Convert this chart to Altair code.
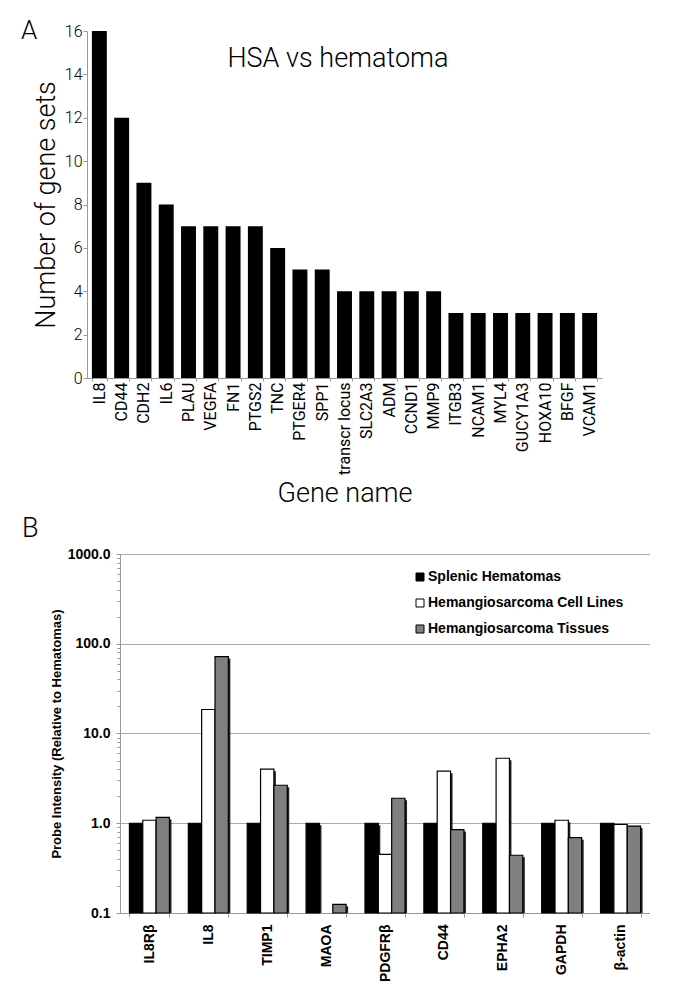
import altair as alt
import pandas as pd

# ---------------- Panel A data ----------------
genes_a = ["IL8", "CD44", "CDH2", "IL6", "PLAU", "VEGFA", "FN1", "PTGS2", "TNC",
           "PTGER4", "SPP1", "transcr locus", "SLC2A3", "ADM", "CCND1", "MMP9",
           "ITGB3", "NCAM1", "MYL4", "GUCY1A3", "HOXA10", "BFGF", "VCAM1"]
counts_a = [16, 12, 9, 8, 7, 7, 7, 7, 6, 5, 5, 4, 4, 4, 4, 4, 3, 3, 3, 3, 3, 3, 3]
y_ticks_a = [0, 2, 4, 6, 8, 10, 12, 14, 16]

# ---------------- Panel B data ----------------
genes_b = ["IL8Rβ", "IL8", "TIMP1", "MAOA", "PDGFRβ", "CD44", "EPHA2", "GAPDH", "β-actin"]
series_b = ["Splenic Hematomas", "Hemangiosarcoma Cell Lines", "Hemangiosarcoma Tissues"]
hematomas = [1.0, 1.0, 1.0, 1.0, 1.0, 1.0, 1.0, 1.0, 1.0]
cell_lines = [1.08, 18.5, 4.0, None, 0.45, 3.8, 5.3, 1.08, 0.97]
tissues = [1.16, 72.0, 2.65, 0.125, 1.9, 0.85, 0.44, 0.69, 0.93]
colors_b = ["#000000", "#ffffff", "#7f7f7f"]
y_ticks_b = [m * 10.0 ** e for e in range(-1, 3) for m in range(1, 10)] + [1000.0]

FONT_A = "Roboto"
FONT_B = "Liberation Sans"

# panel A plot spans further left than panel B's plot origin
SHIFT_A = 33
W_A, H_A = 482, 347
W_B, H_B = 530, 359
PAD_IN_B, PAD_OUT_B = 0.32, 0.16
BAND_B = W_B / (len(genes_b) - PAD_IN_B + 2 * PAD_OUT_B) * (1 - PAD_IN_B)
SHADOW = 2

df_a = pd.DataFrame({"gene": genes_a, "count": counts_a})

rows = []
for s, vals in zip(series_b, [hematomas, cell_lines, tissues]):
    for g, v in zip(genes_b, vals):
        if v is not None:
            rows.append({"gene": g, "series": s, "value": v})
df_b = pd.DataFrame(rows)

# ---------------- Panel A chart ----------------
bars_a = alt.Chart(df_a).mark_bar(color="#000000").encode(
    x=alt.X("gene:N", sort=genes_a,
            scale=alt.Scale(paddingInner=0.33, paddingOuter=0.22, range=[-SHIFT_A, W_A]),
            axis=alt.Axis(title="Gene name", labelAngle=-90, tickBand="extent",
                          labelFont=FONT_A, labelFontSize=16, labelColor="#000000",
                          labelFontWeight=400, labelPadding=1, tickSize=3,
                          tickColor="#999999", domainColor="#999999",
                          titleFont=FONT_A, titleFontSize=27, titleFontWeight=300,
                          titleColor="#000000", titlePadding=6)),
    y=alt.Y("count:Q", scale=alt.Scale(domain=[0, 16]),
            axis=alt.Axis(title="Number of gene sets", values=y_ticks_a, grid=False,
                          offset=SHIFT_A,
                          labelFont=FONT_A, labelFontSize=16, labelColor="#000000",
                          labelFontWeight=300, labelPadding=1, tickSize=4,
                          tickColor="#999999", domainColor="#999999",
                          titleFont=FONT_A, titleFontSize=27, titleFontWeight=300,
                          titleColor="#000000", titlePadding=4)),
)

title_a = alt.Chart(pd.DataFrame({"t": ["HSA vs hematoma"]})).mark_text(
    font=FONT_A, fontSize=27, fontWeight=300, color="#000000",
    align="center", baseline="middle").encode(
    text="t:N", x=alt.value(218), y=alt.value(28))

letter_a = alt.Chart(pd.DataFrame({"t": ["A"]})).mark_text(
    font=FONT_A, fontSize=26, fontWeight=300, color="#000000",
    align="left", baseline="alphabetic").encode(
    text="t:N", x=alt.value(-99), y=alt.value(8))

chart_a = alt.layer(bars_a, title_a, letter_a).properties(width=W_A, height=H_A)

# ---------------- Panel B chart ----------------
DECADE = "abs(log(datum.value)/LN10 - round(log(datum.value)/LN10)) < 0.000001"

x_b = alt.X("gene:N", sort=genes_b,
            scale=alt.Scale(paddingInner=PAD_IN_B, paddingOuter=PAD_OUT_B),
            axis=alt.Axis(title=None, labelAngle=-90, tickBand="extent",
                          labelFont=FONT_B, labelFontSize=14, labelFontWeight="bold",
                          labelColor="#000000", labelPadding=7, tickSize=4,
                          tickColor="#999999", domainColor="#999999"))
y_b = alt.Y("value:Q",
            scale=alt.Scale(type="log", domain=[0.1, 1000]),
            axis=alt.Axis(title="Probe Intensity (Relative to Hematomas)",
                          values=y_ticks_b, labelOverlap=False,
                          labelExpr="(" + DECADE + ") ? format(datum.value, '.1f') : ''",
                          gridColor="#aaaaaa",
                          gridOpacity={"condition": {"test": DECADE, "value": 1}, "value": 0},
                          tickSize={"condition": {"test": DECADE, "value": 4}, "value": 3},
                          tickColor="#999999", domainColor="#999999",
                          labelFont=FONT_B, labelFontSize=14, labelFontWeight="bold",
                          labelColor="#000000", labelPadding=6,
                          titleFont=FONT_B, titleFontSize=13, titleFontWeight="bold",
                          titleColor="#000000", titlePadding=4))

shadow_b = alt.Chart(df_b).mark_bar(color="#222222", yOffset=SHADOW).encode(
    x=x_b,
    xOffset=alt.XOffset("series:N", sort=series_b,
                        scale=alt.Scale(paddingInner=0, range=[SHADOW, BAND_B + SHADOW])),
    y=y_b, y2=alt.datum(0.1))

bars_b = alt.Chart(df_b).mark_bar(stroke="#000000", strokeWidth=1.2).encode(
    x=x_b,
    xOffset=alt.XOffset("series:N", sort=series_b,
                        scale=alt.Scale(paddingInner=0, range=[0, BAND_B])),
    y=y_b, y2=alt.datum(0.1),
    color=alt.Color("series:N", sort=series_b,
                    scale=alt.Scale(domain=series_b, range=colors_b),
                    legend=alt.Legend(title=None, orient="none", legendX=293, legendY=16,
                                      symbolType="square", symbolSize=64,
                                      symbolStrokeColor="#000000", symbolStrokeWidth=1,
                                      labelFont=FONT_B, labelFontSize=14,
                                      labelFontWeight="bold", labelColor="#000000",
                                      labelOffset=1, rowPadding=12, padding=0,
                                      labelLimit=400)))

letter_b = alt.Chart(pd.DataFrame({"t": ["B"]})).mark_text(
    font=FONT_A, fontSize=27, fontWeight=300, color="#000000",
    align="left", baseline="alphabetic").encode(
    text="t:N", x=alt.value(-98), y=alt.value(-17))

chart_b = alt.layer(shadow_b, bars_b, letter_b).resolve_scale(
    xOffset="independent").properties(width=W_B, height=H_B)

chart = alt.concat(chart_a, chart_b, columns=1, align="none", spacing=8).resolve_legend(
    color="independent").configure_view(stroke=None).properties(
    padding={"left": 13, "top": 10, "right": 0, "bottom": 0},
    background="#ffffff")

chart.save("out.html", embed_options={"renderer": "svg", "actions": False})
